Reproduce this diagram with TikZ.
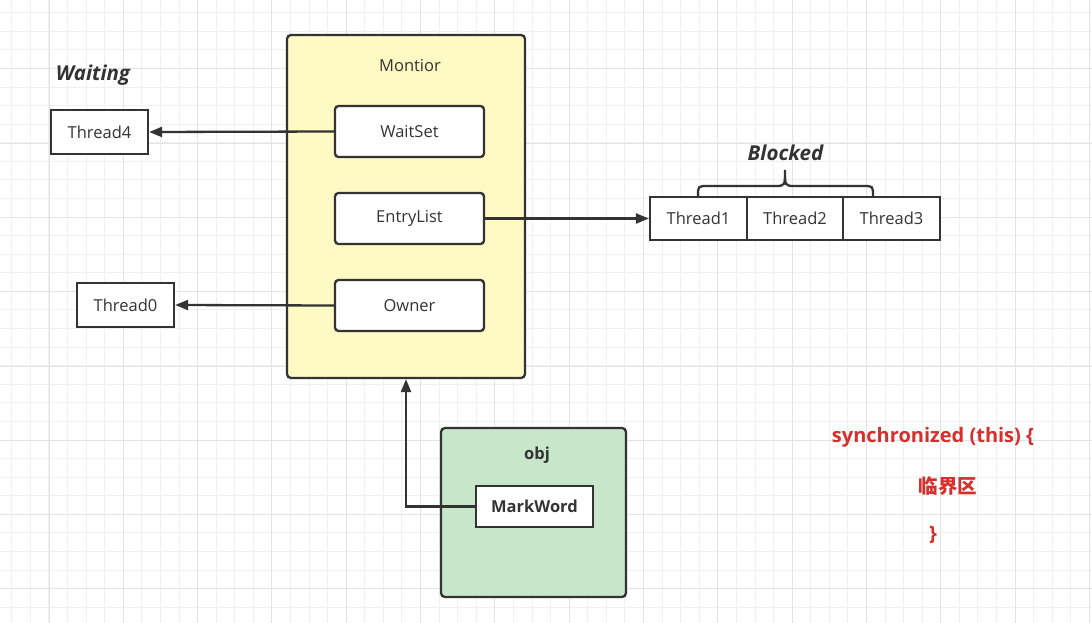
\documentclass[tikz,border=0pt]{standalone}
\usepackage{fontspec}
\setmainfont{Open Sans}
\newfontfamily\cjk{Noto Sans CJK SC}
\usetikzlibrary{arrows.meta}
\definecolor{ink}{HTML}{333333}
\definecolor{monfill}{HTML}{FFF9C4}
\definecolor{objfill}{HTML}{C8E6C9}
\definecolor{redtxt}{HTML}{D6302E}
\definecolor{gridminor}{HTML}{F0F0F0}
\definecolor{gridmajor}{HTML}{E3E3E3}
\tikzset{
  lbl/.style={font=\fontsize{16.5}{19}\selectfont, text=ink},
  container/.style={draw=ink, line width=2.3pt, rounded corners=4pt, inner sep=0pt},
  slot/.style={draw=ink, line width=2.3pt, rounded corners=3.5pt, fill=white, inner sep=0pt,
    minimum width=149pt, minimum height=51pt, lbl},
  thr/.style={draw=ink, line width=2.3pt, fill=white, inner sep=0pt,
    minimum width=97pt, minimum height=44pt, lbl},
  conn/.style={draw=ink, line width=2.3pt, -{Triangle[length=13pt,width=10pt]}},
  state/.style={font=\fontsize{20.5}{24}\selectfont\bfseries\itshape, text=ink},
  code/.style={font=\fontsize{20}{24}\selectfont\bfseries, text=redtxt},
}
\begin{document}
\begin{tikzpicture}[x=1pt,y=-1pt]
\useasboundingbox (0,0) rectangle (1092,623);
\fill[white] (0,0) rectangle (1092,623);
% grid
\foreach \i in {0,...,58} {\draw[gridminor, line width=1pt] ({11.8+18.58*\i},0) -- ++(0,623);}
\foreach \i in {0,...,33} {\draw[gridminor, line width=1pt] (0,{12.7+18.58*\i}) -- ++(1092,0);}
\foreach \i in {0,...,14} {\draw[gridmajor, line width=1pt] ({49+74.32*\i},0) -- ++(0,623);}
\foreach \i in {0,...,8} {\draw[gridmajor, line width=1pt] (0,{-5.6+74.32*\i}) -- ++(1092,0);}

% monitor
\node[container, fill=monfill, minimum width=238pt, minimum height=343pt] (mon) at (406,206.5) {};
\node[lbl] (montxt) at (410,66) {Montior};
\node[slot] (ws) at (409.5,131.5) {WaitSet};
\node[slot] (el) at (409.5,218.5) {EntryList};
\node[slot] (ow) at (409.5,305.5) {Owner};

% threads
\node[thr] (t4) at (99.5,132) {Thread4};
\node[thr] (t0) at (125.5,305) {Thread0};
\node[thr, minimum height=43pt] (t1) at (698.5,218.5) {Thread1};
\node[thr, minimum height=43pt, minimum width=96pt] (t2) at (795,218.5) {Thread2};
\node[thr, minimum height=43pt] (t3) at (891.5,218.5) {Thread3};

\node[state] (waiting) at (93,75) {Waiting};
\node[state] (blocked) at (785.5,153) {Blocked};
\draw[ink, line width=2.3pt, line cap=round]
  (698,196) .. controls (698,186) .. (708,186) -- (775,186)
  .. controls (785,186) .. (785,170)
  .. controls (785,186) .. (795,186) -- (863,186)
  .. controls (873,186) .. (873,196);

% obj
\node[container, fill=objfill, minimum width=185pt, minimum height=169pt] (obj) at (533.5,512.5) {};
\node[lbl, font=\fontsize{16.5}{19}\selectfont\bfseries] (objtxt) at (537,455) {obj};
\node[thr, minimum width=117pt, minimum height=41pt, font=\fontsize{16.5}{19}\selectfont\bfseries] (mw) at (534.5,506.5) {MarkWord};

% connectors
\draw[conn] (ws.west) -- (t4.east);
\draw[conn] (ow.west) -- (t0.east);
\draw[conn] (el.east) -- (t1.west);
\draw[conn] (mw.west) -| (mon.south);

% code text
\node[code] (sync) at (933,437) {synchronized (this) \{};
\node[code, font=\fontsize{19.5}{23}\selectfont\cjk\bfseries] (crit) at (948,486) {临界区};
\node[code] (close) at (933,535) {\}};
\end{tikzpicture}
\end{document}
